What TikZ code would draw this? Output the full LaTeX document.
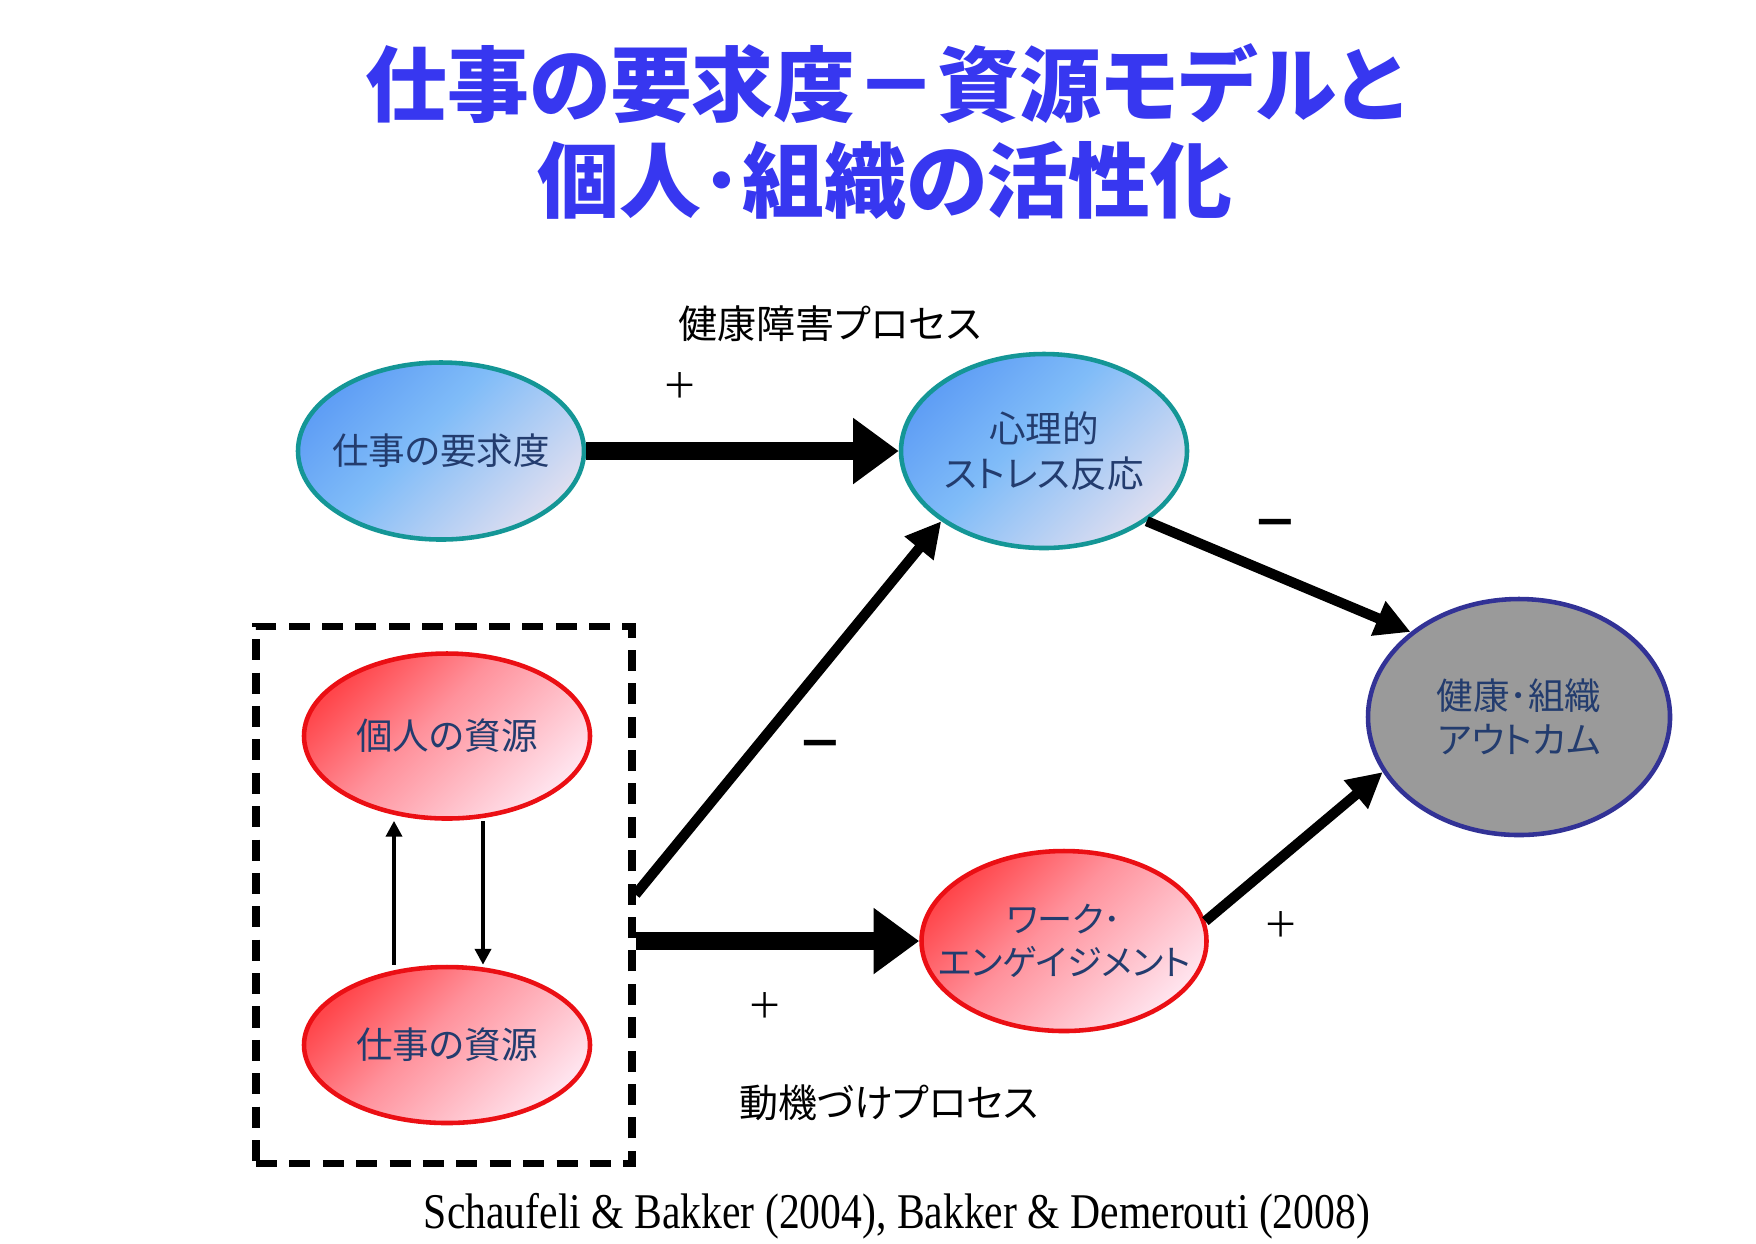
\documentclass[tikz,border=0pt]{standalone}
\usepackage{fontspec}
\usepackage{tikz}
\usetikzlibrary{shapes.geometric,arrows.meta,positioning}

\setmainfont{Noto Sans CJK JP}[RawFeature=+palt]
\newfontfamily\citefont{Liberation Serif}

\definecolor{titleblue}{RGB}{55,55,240}
\definecolor{labelnavy}{RGB}{35,60,110}
\definecolor{tealborder}{RGB}{20,150,150}
\definecolor{redborder}{RGB}{235,15,20}
\definecolor{navyborder}{RGB}{50,50,150}
\definecolor{outcomegray}{RGB}{154,154,154}
\definecolor{bluedark}{RGB}{95,158,245}
\definecolor{bluemid}{RGB}{128,188,248}
\definecolor{bluelight}{RGB}{222,222,240}
\definecolor{reddark}{RGB}{255,70,75}
\definecolor{redmid}{RGB}{255,145,155}
\definecolor{redlight}{RGB}{255,228,238}

\pgfdeclareverticalshading{bluegrad}{100bp}{color(0bp)=(bluelight); color(25bp)=(bluelight); color(55bp)=(bluemid); color(75bp)=(bluedark); color(100bp)=(bluedark)}
\pgfdeclareverticalshading{redgrad}{100bp}{color(0bp)=(redlight); color(25bp)=(redlight); color(55bp)=(redmid); color(75bp)=(reddark); color(100bp)=(reddark)}

\begin{document}
\begin{tikzpicture}[node distance=3cm,
    bubble/.style={ellipse, inner xsep=-14pt, inner ysep=-4pt, line width=1.3pt, text=labelnavy, align=center, font=\fontsize{10.4}{12.6}\selectfont},
    bluebubble/.style={bubble, draw=tealborder, shading=bluegrad, shading angle=45, minimum width=2.86cm},
    redbubble/.style={bubble, draw=redborder, shading=redgrad, shading angle=45, minimum width=2.86cm},
    dashbox/.style={draw, line width=2pt, dash pattern=on 6pt off 3.5pt, minimum width=3.76cm, minimum height=5.37cm, inner sep=0pt},
    fatarrow/.style={line width=5pt, -{Triangle[length=13pt,width=18pt]}},
    midarrow/.style={line width=2.9pt, -{Triangle[length=10pt,width=10pt]}},
    thinarrow/.style={line width=1.3pt, -{Triangle[length=4.5pt,width=4.5pt]}},
    sign/.style={font=\fontsize{10}{12}\selectfont},
    minussign/.style={font=\bfseries\fontsize{13}{14}\selectfont},
    process/.style={font=\fontsize{11.1}{13}\selectfont}]

    \fill[white] (0,0) rectangle (17.56,-12.43);
    \useasboundingbox (0,0) rectangle (17.56,-12.43);

    \node[font=\bfseries\fontsize{23.3}{27.3}\selectfont, text=titleblue, align=center] (title) at (8.85,-1.32) {仕事の要求度－資源モデルと\\個人･組織の活性化};

    % health impairment process
    \node[bluebubble, minimum height=1.77cm] (demand) at (4.41,-4.51) {仕事の要求度};
    \node[bluebubble, minimum height=1.94cm, right of=demand, node distance=6.03cm] (stress) {心理的\\ストレス反応};
    \node[bubble, draw=navyborder, fill=outcomegray, minimum width=3.02cm, minimum height=2.36cm] (outcome) at (15.19,-7.17) {健康･組織\\アウトカム};

    % resources
    \node[dashbox] (resbox) at (4.44,-8.945) {};
    \node[redbubble, minimum height=1.65cm] (persres) at (4.47,-7.36) {個人の資源};
    \node[redbubble, minimum height=1.56cm, below of=persres, node distance=3.09cm] (jobres) {仕事の資源};
    \node[redbubble, minimum width=2.85cm, minimum height=1.80cm, font=\fontsize{10}{12.4}\selectfont] (work) at (10.64,-9.41) {ワーク･\\エンゲイジメント};

    \node[process] (harmlbl) at (8.30,-3.24) {健康障害プロセス};
    \node[process] (motivlbl) at (8.89,-11.03) {動機づけプロセス};

    \node[sign] (plusdemand) at (6.80,-3.85) {＋};
    \node[minussign] (minusstress) at (12.75,-5.29) {－};
    \node[minussign] (minusres) at (8.20,-7.50) {－};
    \node[sign] (plusres) at (7.65,-10.05) {＋};
    \node[sign] (pluswork) at (12.81,-9.24) {＋};

    \draw[fatarrow] (demand) -- (stress);
    \draw[midarrow] (stress.south east) -- (outcome.north west);
    \draw[midarrow] (resbox.east) -- (stress.south west);
    \draw[fatarrow] (resbox.east |- work.west) -- (work.west);
    \draw[midarrow] (work.8) -- (outcome.202);
    \draw[thinarrow] ([xshift=-0.53cm]jobres.north) -- ([xshift=-0.53cm]persres.south);
    \draw[thinarrow] ([xshift=0.36cm]persres.south) -- ([xshift=0.36cm]jobres.north);

    \node (cite) at (8.97,-12.16) {\citefont\fontsize{11.85}{14}\selectfont\scalebox{1}[1.2]{Schaufeli \& Bakker (2004), Bakker \& Demerouti (2008)}};
\end{tikzpicture}
\end{document}
